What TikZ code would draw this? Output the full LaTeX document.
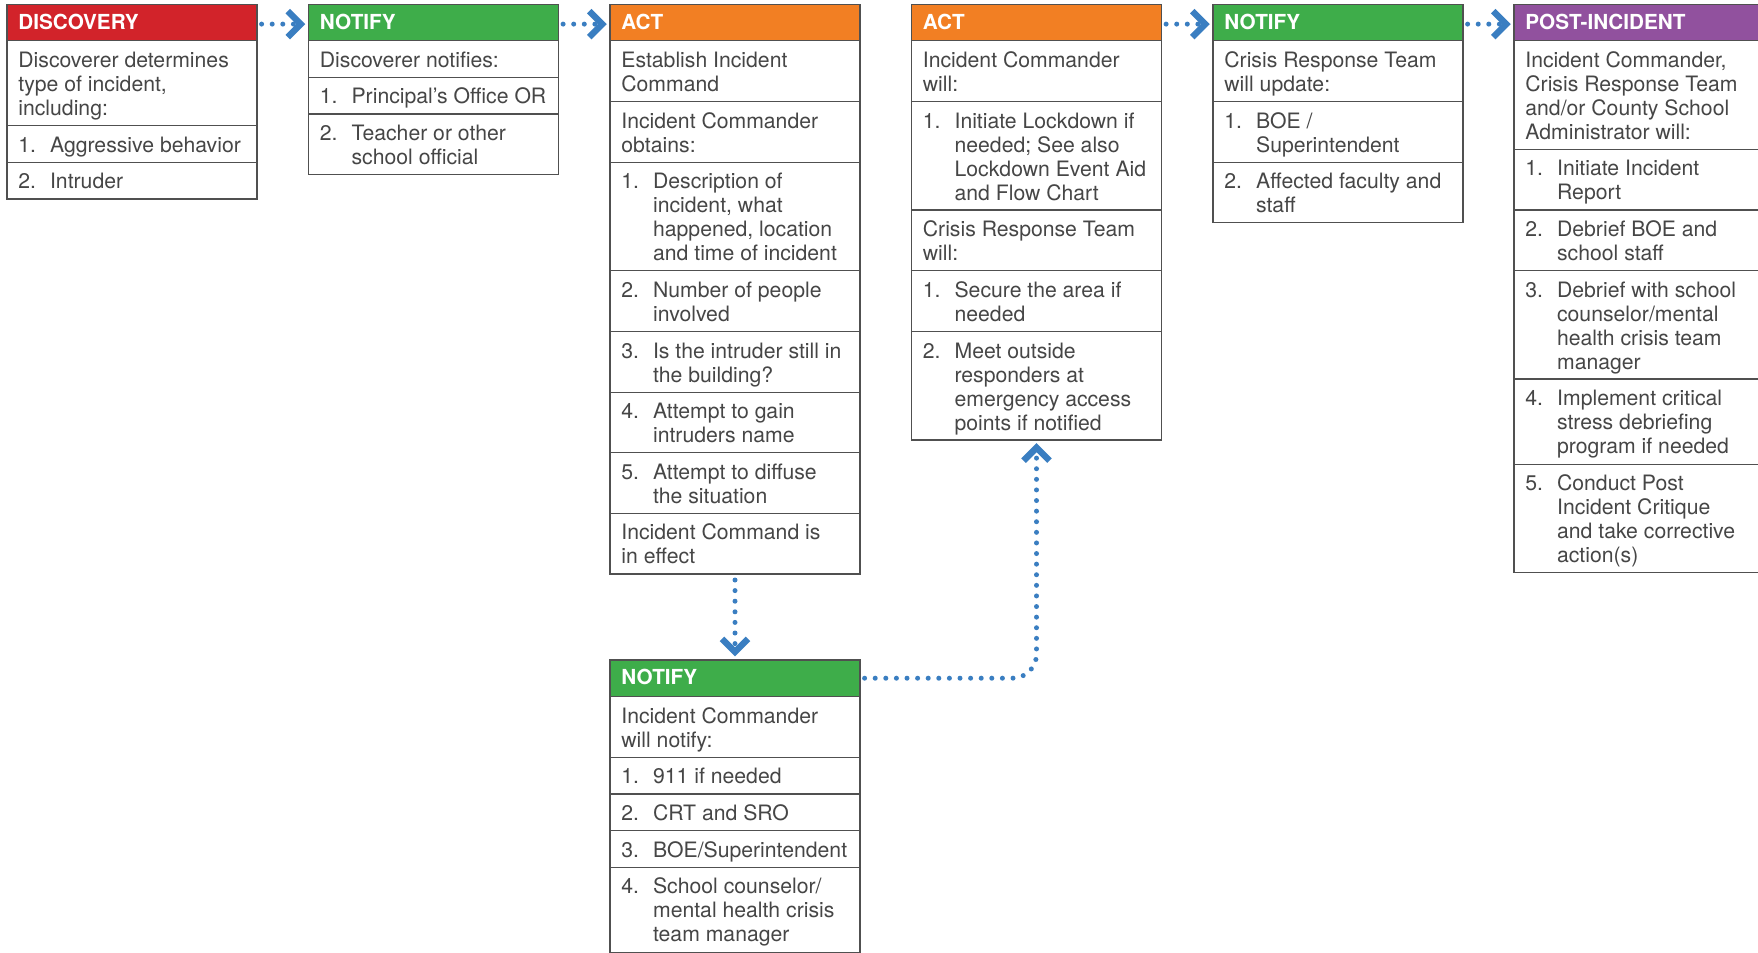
\documentclass[tikz,border=0pt]{standalone}
\usepackage{fontspec}
\setmainfont{TeX Gyre Heros}
\usetikzlibrary{arrows.meta}

\definecolor{discred}{RGB}{210,35,42}
\definecolor{notegreen}{RGB}{62,173,74}
\definecolor{actorange}{RGB}{242,127,35}
\definecolor{postpurple}{RGB}{145,81,158}
\definecolor{flowblue}{RGB}{58,126,193}
\definecolor{inkgray}{RGB}{70,70,70}
\definecolor{rulegray}{RGB}{80,80,80}

\tikzset{
  cell/.style={draw=rulegray, line width=0.75pt, fill=white, rectangle,
    anchor=north west, minimum width=125pt, inner sep=0pt, outer sep=0pt},
  headtext/.style={anchor=base west, inner sep=0pt, text=white,
    font=\bfseries\fontsize{10.35}{12}\selectfont},
  bodytext/.style={anchor=base west, inner sep=0pt, text=inkgray,
    font=\fontsize{10.6}{12}\selectfont},
  flow/.style={draw=flowblue, line width=2.5pt, line cap=round,
    dash pattern=on 0pt off 5.3pt,
    -{Straight Barb[length=6.5pt,width=13pt,line width=3.2pt]}},
}

% lines set in a top-aligned box, so the node's base is the first baseline
\newcommand\linesof[1]{\parbox[t]{200pt}{#1}}
% coloured title bar of a card
\newcommand\headbox[5]{%
  \node[cell, fill=#4, minimum height=18.2pt] (#1) at (#2,#3) {};
  \node[headtext] (#1-t) at ([shift={(11,24.8)}]#1.north west) {#5};
}
% plain text row
\newcommand\textrow[5]{%
  \node[cell, minimum height={(#4-#3)*0.5pt}] (#1) at (#2,#3) {};
  \node[bodytext] (#1-t) at ([shift={(11,26.5)}]#1.north west) {\linesof{#5}};
}
% numbered row
\newcommand\itemrow[6]{%
  \node[cell, minimum height={(#4-#3)*0.5pt}] (#1) at (#2,#3) {};
  \node[bodytext] (#1-n) at ([shift={(11,26.5)}]#1.north west) {#5.};
  \node[bodytext] (#1-t) at ([shift={(42.7,26.5)}]#1.north west) {\linesof{#6}};
}

\begin{document}
\begin{tikzpicture}[x=0.5pt, y=-0.5pt]
\fill[white] (0,0) rectangle (1758,953);
\useasboundingbox (0,0) rectangle (1758,953);
\clip (0,0) rectangle (1758,953);

% Discovery
\headbox{disc}{7}{4.5}{discred}{DISCOVERY}
\textrow{disc-a}{7}{40.7}{125.7}{Discoverer determines\\type of incident,\\including:}
\itemrow{disc-b}{7}{125.7}{162.3}{1}{Aggressive behavior}
\itemrow{disc-c}{7}{162.3}{199}{2}{Intruder}

% First notification
\headbox{notA}{308.5}{4.5}{notegreen}{NOTIFY}
\textrow{notA-a}{308.5}{40.7}{77.3}{Discoverer notifies:}
\itemrow{notA-b}{308.5}{77.3}{114}{1}{Principal’s Office OR}
\itemrow{notA-c}{308.5}{114}{174.3}{2}{Teacher or other\\school official}

% First action
\headbox{actA}{610}{4.5}{actorange}{ACT}
\textrow{actA-a}{610}{40.7}{101.7}{Establish Incident\\Command}
\textrow{actA-b}{610}{101.7}{162.3}{Incident Commander\\obtains:}
\itemrow{actA-c}{610}{162.3}{270.7}{1}{Description of\\incident, what\\happened, location\\and time of incident}
\itemrow{actA-d}{610}{270.7}{331.7}{2}{Number of people\\involved}
\itemrow{actA-e}{610}{331.7}{392.3}{3}{Is the intruder still in\\the building?}
\itemrow{actA-f}{610}{392.3}{452.7}{4}{Attempt to gain\\intruders name}
\itemrow{actA-g}{610}{452.7}{513.3}{5}{Attempt to diffuse\\the situation}
\textrow{actA-h}{610}{513.3}{574}{Incident Command is\\in effect}

% Second action
\headbox{actB}{911.5}{4.5}{actorange}{ACT}
\textrow{actB-a}{911.5}{40.7}{101.7}{Incident Commander\\will:}
\itemrow{actB-b}{911.5}{101.7}{210}{1}{Initiate Lockdown if\\needed; See also\\Lockdown Event Aid\\and Flow Chart}
\textrow{actB-c}{911.5}{210}{270.7}{Crisis Response Team\\will:}
\itemrow{actB-d}{911.5}{270.7}{331.7}{1}{Secure the area if\\needed}
\itemrow{actB-e}{911.5}{331.7}{440}{2}{Meet outside\\responders at\\emergency access\\points if notified}

% Second notification
\headbox{notB}{1213}{4.5}{notegreen}{NOTIFY}
\textrow{notB-a}{1213}{40.7}{101.7}{Crisis Response Team\\will update:}
\itemrow{notB-b}{1213}{101.7}{162.3}{1}{BOE /\\Superintendent}
\itemrow{notB-c}{1213}{162.3}{222.7}{2}{Affected faculty and\\staff}

% Post-incident
\headbox{post}{1514}{4.5}{postpurple}{POST-INCIDENT}
\textrow{post-a}{1514}{40.7}{149.3}{Incident Commander,\\Crisis Response Team\\and/or County School\\Administrator will:}
\itemrow{post-b}{1514}{149.3}{210}{1}{Initiate Incident\\Report}
\itemrow{post-c}{1514}{210}{270.7}{2}{Debrief BOE and\\school staff}
\itemrow{post-d}{1514}{270.7}{379}{3}{Debrief with school\\counselor/mental\\health crisis team\\manager}
\itemrow{post-e}{1514}{379}{464.3}{4}{Implement critical\\stress debriefing\\program if needed}
\itemrow{post-f}{1514}{464.3}{572.7}{5}{Conduct Post\\Incident Critique\\and take corrective\\action(s)}

% Incident commander notification
\headbox{notC}{610}{660}{notegreen}{NOTIFY}
\textrow{notC-a}{610}{696.7}{757.3}{Incident Commander\\will notify:}
\itemrow{notC-b}{610}{757.3}{794}{1}{911 if needed}
\itemrow{notC-c}{610}{794}{830.7}{2}{CRT and SRO}
\itemrow{notC-d}{610}{830.7}{867.3}{3}{BOE/Superintendent}
\itemrow{notC-e}{610}{867.3}{952.3}{4}{School counselor/\\mental health crisis\\team manager}

% Flow connectors
\draw[flow] ([shift={(2.3pt,-0.7pt)}]disc.east) -- ([shift={(-1.6pt,-0.7pt)}]notA.west);
\draw[flow] ([shift={(2.3pt,-0.7pt)}]notA.east) -- ([shift={(-1.6pt,-0.7pt)}]actA.west);
\draw[flow] ([shift={(2.3pt,-0.7pt)}]actB.east) -- ([shift={(-1.6pt,-0.7pt)}]notB.west);
\draw[flow] ([shift={(2.3pt,-0.7pt)}]notB.east) -- ([shift={(-1.6pt,-0.7pt)}]post.west);
\draw[flow] ([yshift=-3pt]actA-h.south) -- ([yshift=1.8pt]notC.north);
\draw[flow, rounded corners=12pt] ([xshift=2.3pt]notC.east) -| ([yshift=-1.6pt]actB-e.south);
\end{tikzpicture}
\end{document}
